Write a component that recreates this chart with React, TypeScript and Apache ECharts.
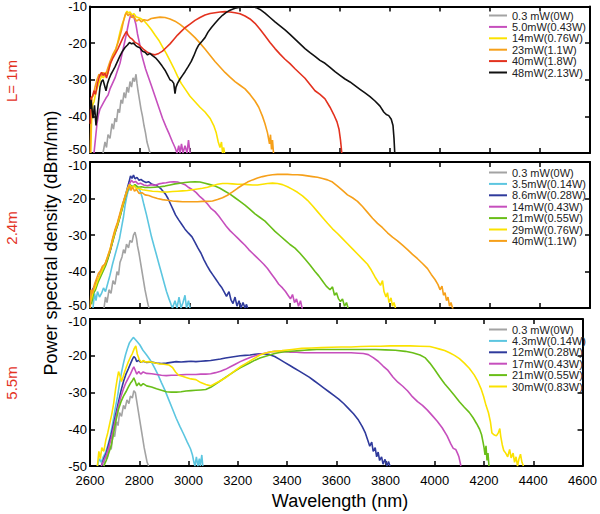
import React, { useEffect, useRef } from "react";
import * as echarts from "echarts";

// ---------- axis setup ----------
const xMin = 2600;
const xMax = 4600;
const xStep = 200;
const yMin = -50;
const yMax = -10;
const yStep = 10;

const panelLabels = ["L= 1m", "2.4m", "5.5m"];
const xTitle = "Wavelength (nm)";
const yTitle = "Power spectral density (dBm/nm)";

// ---------- colours ----------
const GRAY = "#a3a3a3";
const MAGENTA = "#c64fbd";
const YELLOW = "#fbe200";
const ORANGE = "#f6a01a";
const RED = "#e3321f";
const BLACK = "#111111";
const CYAN = "#5cc6e0";
const NAVY = "#2f3a9c";
const GREEN = "#69be18";

// ---------- panel 1 (L = 1 m) ----------
const p1Names = ["0.3 mW(0W)", "5.0mW(0.43W)", "14mW(0.76W)", "23mW(1.1W)", "40mW(1.8W)", "48mW(2.13W)"];
const p1Colors = [GRAY, MAGENTA, YELLOW, ORANGE, RED, BLACK];

const p1_03 = [[2652,-50],[2660,-47],[2666,-48.5],[2672,-45],[2680,-46],[2688,-42],[2694,-43.5],[2700,-40.5],[2706,-41.5],[2712,-38],[2718,-39],[2724,-35.5],[2730,-36.5],[2736,-33.5],[2742,-35],[2748,-32],[2754,-33.5],[2760,-30.5],[2766,-32],[2772,-29.5],[2778,-30.5],[2784,-28.5],[2788,-31],[2792,-33],[2798,-35.5],[2804,-38],[2810,-40],[2816,-42.5],[2822,-44.5],[2828,-47],[2834,-48.5],[2840,-50]];
const p1_5 = [[2616,-50],[2622,-46],[2628,-42],[2634,-39.5],[2640,-38],[2648,-37],[2656,-36],[2664,-35],[2672,-34.2],[2680,-32.5],[2690,-31],[2700,-29.5],[2710,-27.5],[2720,-25.5],[2728,-23],[2736,-20.5],[2744,-18],[2750,-16],[2756,-14],[2762,-12.5],[2768,-13],[2772,-12.3],[2778,-13.5],[2784,-15],[2790,-17.5],[2798,-20],[2806,-23],[2814,-25],[2822,-27],[2832,-29],[2845,-31.5],[2860,-34.5],[2875,-37.5],[2890,-40.5],[2905,-43],[2918,-45],[2930,-47],[2940,-48.5],[2948,-50],[2955,-48],[2960,-50],[2966,-47.5],[2972,-50],[2980,-48],[2988,-50],[2994,-46.5],[3000,-50]];
const p1_14 = [[2603,-50],[2606,-42],[2610,-37],[2616,-36],[2622,-34],[2630,-32],[2638,-30.5],[2646,-29],[2654,-29.5],[2662,-28],[2670,-28.5],[2680,-26],[2690,-24],[2700,-22.5],[2710,-20],[2720,-17],[2728,-15],[2736,-13.5],[2742,-12],[2748,-11.3],[2754,-11.8],[2760,-11.5],[2768,-12.3],[2776,-12],[2784,-12.8],[2792,-13],[2800,-13.2],[2815,-13.8],[2830,-15],[2845,-16.3],[2860,-17.8],[2875,-19.2],[2890,-21],[2905,-22.8],[2920,-24.8],[2935,-26.8],[2950,-29],[2965,-31],[2980,-32.5],[3000,-34.5],[3020,-36],[3040,-37.5],[3060,-38.8],[3080,-40.5],[3095,-42.5],[3105,-44.5],[3113,-47],[3120,-48.5],[3126,-47],[3130,-50],[3135,-48.5],[3138,-50]];
const p1_23 = [[2601,-50],[2604,-40],[2608,-35],[2614,-34],[2620,-32],[2628,-30],[2636,-28.5],[2644,-29],[2652,-28],[2660,-29],[2668,-27.5],[2680,-25],[2692,-23],[2704,-21.5],[2716,-19],[2726,-16.5],[2734,-14],[2740,-12.5],[2746,-11.7],[2752,-12.5],[2760,-12],[2768,-13],[2776,-12.8],[2786,-14],[2796,-13.5],[2806,-14.2],[2816,-13.6],[2830,-13.8],[2845,-13.3],[2860,-13.1],[2880,-12.9],[2900,-13],[2920,-13.4],[2940,-14],[2960,-14.9],[2980,-16],[3000,-17.2],[3020,-18.5],[3040,-20],[3060,-21.6],[3080,-23.3],[3100,-25],[3120,-26.5],[3140,-28],[3160,-29.3],[3180,-30.5],[3200,-31.5],[3220,-32.5],[3240,-34],[3260,-35.8],[3275,-37.5],[3290,-40],[3300,-42],[3310,-44.5],[3318,-47.5],[3322,-45],[3326,-49],[3330,-46.5],[3334,-50]];
const p1_40 = [[2601,-42],[2604,-35],[2610,-34.5],[2616,-33],[2622,-34],[2630,-31],[2638,-29],[2646,-28],[2652,-28.8],[2660,-28.2],[2666,-29.5],[2674,-27.5],[2682,-25.5],[2692,-24],[2702,-22.8],[2712,-21.5],[2722,-20],[2732,-18.5],[2740,-17.5],[2746,-16.8],[2752,-17.8],[2760,-18.5],[2770,-19],[2780,-19.8],[2792,-20.2],[2804,-21],[2816,-21.8],[2830,-22.5],[2845,-23],[2860,-23.2],[2875,-22.8],[2890,-22.2],[2905,-21.2],[2920,-20.2],[2935,-19],[2950,-17.8],[2965,-16.8],[2980,-15.8],[3000,-14.8],[3020,-13.8],[3040,-13],[3060,-12.3],[3080,-11.9],[3100,-11.7],[3120,-11.5],[3140,-11.4],[3160,-11.5],[3180,-11.7],[3200,-12],[3220,-12.6],[3240,-13.4],[3260,-14.6],[3280,-16.2],[3300,-18],[3320,-19.8],[3340,-21.5],[3360,-23],[3380,-24.4],[3400,-25.6],[3420,-27],[3440,-28.3],[3460,-29.6],[3480,-31.3],[3500,-33],[3520,-34],[3540,-35.2],[3560,-37.5],[3575,-39.5],[3588,-41.5],[3596,-43.5],[3602,-46.5],[3605,-48.5],[3607,-50]];
const p1_48 = [[2601,-38],[2604,-35.5],[2608,-38],[2612,-40.5],[2618,-37],[2624,-42.5],[2628,-40],[2634,-36],[2640,-32],[2646,-30.5],[2652,-30],[2658,-31.5],[2664,-33],[2670,-31],[2676,-29.8],[2684,-28.5],[2692,-27.5],[2700,-26.5],[2710,-25],[2720,-23.5],[2730,-22.2],[2740,-21.2],[2750,-20.5],[2758,-19.8],[2766,-20.2],[2774,-20],[2782,-20.6],[2790,-21],[2800,-21.3],[2810,-22.2],[2820,-22.5],[2830,-23.2],[2840,-22.8],[2850,-23.4],[2862,-24],[2875,-25],[2888,-26.2],[2900,-27.4],[2910,-28.7],[2920,-30],[2928,-30.3],[2935,-31],[2940,-33.8],[2944,-32],[2950,-31],[2960,-29.8],[2970,-28.8],[2980,-27.8],[2992,-26.5],[3005,-25],[3015,-23.5],[3025,-21.8],[3035,-20.5],[3048,-19.5],[3060,-18.5],[3072,-17],[3085,-15.8],[3100,-14.6],[3115,-13.4],[3130,-12.4],[3145,-11.6],[3160,-11],[3180,-10.5],[3200,-10.2],[3220,-10],[3245,-10],[3265,-10.3],[3280,-10.8],[3300,-11.8],[3320,-13],[3340,-14.2],[3360,-15.3],[3380,-16.4],[3400,-17.6],[3420,-18.9],[3440,-20.2],[3460,-21.5],[3480,-22.6],[3500,-23.6],[3520,-24.7],[3540,-25.5],[3560,-26.6],[3580,-27.8],[3600,-28.8],[3620,-29.8],[3640,-30.6],[3660,-31.6],[3680,-32.6],[3700,-33.6],[3720,-34.6],[3740,-35.8],[3760,-37.2],[3775,-38.8],[3785,-39.5],[3795,-39.8],[3805,-40.8],[3812,-42.5],[3816,-46],[3819,-50]];

// ---------- panel 2 (L = 2.4 m) ----------
const p2Names = ["0.3 mW(0W)", "3.5mW(0.14W)", "8.6mW(0.28W)", "14mW(0.43W)", "21mW(0.55W)", "29mW(0.76W)", "40mW(1.1W)"];
const p2Colors = [GRAY, CYAN, NAVY, MAGENTA, GREEN, YELLOW, ORANGE];

const p2_03 = [[2656,-50],[2662,-47],[2668,-48.5],[2676,-45],[2684,-46],[2692,-42.5],[2700,-43.5],[2708,-40],[2714,-41],[2720,-37.5],[2728,-36],[2734,-34],[2740,-35],[2746,-32.5],[2754,-33.5],[2760,-31.5],[2768,-32],[2774,-30],[2780,-29.2],[2786,-31],[2790,-33],[2796,-35],[2802,-37.5],[2808,-40],[2814,-42.5],[2820,-45],[2826,-47],[2832,-49],[2836,-50]];
const p2_35 = [[2612,-50],[2618,-46],[2624,-48],[2630,-45.5],[2638,-47],[2646,-46],[2654,-44.5],[2662,-45.5],[2670,-43.5],[2680,-41],[2690,-38],[2700,-35.5],[2710,-33],[2718,-31],[2726,-28],[2734,-25],[2740,-22],[2746,-19.8],[2752,-18],[2760,-17.2],[2768,-16.8],[2776,-16.4],[2784,-16.8],[2792,-17],[2800,-17.8],[2808,-19.5],[2816,-21.8],[2826,-24.5],[2836,-27.5],[2846,-30.5],[2856,-33],[2866,-35.5],[2876,-38],[2886,-40.5],[2896,-43],[2906,-45.5],[2916,-47.5],[2924,-49],[2930,-50],[2940,-48],[2948,-50],[2956,-47],[2964,-50],[2972,-48.5],[2980,-46.5],[2986,-50],[2994,-48],[3000,-50]];
const p2_86 = [[2603,-47],[2610,-45],[2618,-44],[2626,-42.5],[2634,-42],[2644,-40],[2652,-39],[2660,-38],[2670,-36.5],[2680,-34.5],[2690,-31.5],[2700,-29],[2710,-27],[2720,-24.5],[2730,-22],[2740,-19.5],[2748,-17.5],[2756,-15.5],[2762,-13.8],[2768,-14.5],[2774,-13.6],[2780,-14.6],[2788,-14.2],[2796,-15],[2804,-14.8],[2814,-15.3],[2824,-15.6],[2834,-15.4],[2846,-16],[2858,-16.3],[2870,-16.6],[2882,-17.2],[2892,-18],[2902,-18.8],[2912,-20],[2922,-21.5],[2932,-23],[2942,-24.5],[2954,-25.8],[2966,-27],[2980,-28.4],[2994,-29.5],[3008,-30.5],[3020,-32],[3032,-33.6],[3044,-35],[3056,-36.8],[3068,-38.4],[3080,-39.8],[3092,-41],[3104,-42.2],[3116,-43.4],[3126,-44.3],[3136,-45.5],[3146,-46.8],[3156,-45.5],[3164,-47.8],[3172,-48.8],[3180,-47],[3188,-49.5],[3196,-48],[3204,-50],[3212,-48.5],[3220,-50],[3226,-49],[3230,-50]];
const p2_14 = [[2604,-48],[2612,-45],[2620,-44],[2630,-42.5],[2640,-41],[2650,-39.5],[2660,-38.5],[2670,-36.5],[2680,-34.5],[2690,-32],[2700,-29.5],[2710,-27.5],[2720,-25],[2730,-22.5],[2740,-20],[2750,-17.5],[2758,-16],[2766,-15],[2774,-15.6],[2782,-15.3],[2792,-16],[2802,-15.8],[2815,-16.3],[2830,-16.5],[2845,-16.2],[2860,-16.4],[2875,-16],[2890,-15.8],[2905,-15.7],[2920,-15.5],[2935,-15.4],[2950,-15.5],[2965,-15.8],[2980,-16.2],[2995,-17],[3010,-17.6],[3025,-18.4],[3040,-19.5],[3055,-20.4],[3070,-21.5],[3085,-22.8],[3100,-23.6],[3115,-24.8],[3130,-26.2],[3145,-27.6],[3160,-28.8],[3175,-29.8],[3190,-30.8],[3205,-31.8],[3220,-32.8],[3235,-34],[3250,-35],[3265,-36],[3280,-37],[3295,-38],[3310,-39.2],[3325,-40.6],[3340,-42],[3355,-43.5],[3370,-44.5],[3382,-45.5],[3392,-46.5],[3402,-47.5],[3410,-46.3],[3418,-48.5],[3426,-47.5],[3434,-49.5],[3442,-48],[3448,-50],[3452,-50]];
const p2_21 = [[2606,-49],[2614,-46],[2622,-45],[2632,-43],[2642,-41.5],[2652,-40],[2662,-38.5],[2672,-36.5],[2682,-34],[2692,-31.5],[2702,-29],[2712,-27],[2722,-24.5],[2732,-22],[2742,-19.5],[2752,-17.5],[2760,-16.2],[2770,-16.8],[2780,-16.2],[2792,-16.9],[2805,-16.8],[2820,-17],[2840,-17],[2860,-16.9],[2880,-16.8],[2900,-16.6],[2920,-16.3],[2940,-16],[2960,-15.8],[2980,-15.6],[3000,-15.5],[3020,-15.4],[3040,-15.5],[3060,-15.8],[3080,-16.2],[3100,-16.6],[3120,-17.2],[3140,-18],[3160,-18.8],[3180,-19.8],[3200,-20.8],[3220,-21.8],[3240,-23],[3260,-24.2],[3280,-25.2],[3300,-26.2],[3320,-27.6],[3340,-29],[3360,-30.2],[3380,-31.4],[3400,-32.6],[3420,-33.6],[3440,-35],[3460,-36.6],[3480,-38.2],[3500,-40],[3515,-41.2],[3530,-42.6],[3545,-44],[3560,-45],[3570,-44.2],[3578,-46.5],[3586,-45.8],[3594,-47.5],[3602,-48.2],[3610,-47.5],[3618,-49.5],[3626,-48.5],[3632,-50]];
const p2_29 = [[2604,-48],[2612,-45.5],[2620,-44.5],[2630,-42.5],[2640,-41],[2650,-39.5],[2660,-38],[2670,-36],[2680,-34],[2690,-31.5],[2700,-29],[2710,-27],[2720,-24.5],[2730,-22],[2740,-19.5],[2750,-17.3],[2758,-16.2],[2766,-17],[2776,-16.5],[2786,-17.3],[2796,-17.2],[2810,-17.6],[2830,-17.8],[2850,-18],[2870,-18.1],[2890,-18.2],[2910,-18.2],[2930,-18.1],[2950,-18],[2970,-17.9],[2990,-17.8],[3010,-17.6],[3030,-17.4],[3050,-17.2],[3070,-16.9],[3090,-16.5],[3110,-16.1],[3130,-15.9],[3150,-15.9],[3170,-16],[3190,-16.1],[3210,-16.1],[3230,-16.2],[3250,-16.3],[3270,-16.3],[3290,-16.1],[3310,-15.9],[3330,-15.8],[3350,-15.9],[3370,-16.2],[3390,-16.8],[3410,-17.5],[3430,-18.3],[3450,-19.3],[3470,-20.5],[3490,-22],[3510,-23.6],[3530,-25.2],[3550,-26.8],[3570,-28.3],[3590,-29.6],[3610,-31],[3630,-32.4],[3650,-33.8],[3670,-35.2],[3690,-36.6],[3710,-38],[3725,-39.6],[3740,-41.5],[3752,-42.8],[3762,-43.8],[3770,-42.5],[3776,-45.5],[3784,-47],[3790,-45.8],[3796,-48.5],[3804,-47.2],[3810,-49.5],[3816,-48.5],[3822,-50]];
const p2_40 = [[2601,-50],[2604,-45],[2610,-46],[2618,-43.5],[2626,-42],[2634,-40.5],[2642,-39.8],[2650,-38.5],[2660,-38],[2670,-36],[2680,-34],[2690,-31],[2700,-28.5],[2710,-26.5],[2720,-24],[2730,-21.5],[2740,-19.5],[2750,-17.6],[2758,-16.5],[2764,-17.8],[2770,-16.8],[2778,-18],[2786,-17.5],[2796,-18.6],[2808,-18.4],[2820,-19],[2835,-19.2],[2850,-19.6],[2870,-20],[2890,-20.3],[2910,-20.5],[2930,-20.7],[2950,-20.8],[2970,-20.9],[2990,-20.9],[3010,-20.9],[3030,-20.9],[3050,-20.8],[3070,-20.8],[3090,-20.7],[3110,-20.3],[3130,-19.8],[3150,-19.1],[3170,-18.2],[3190,-17.2],[3210,-16.3],[3230,-15.5],[3250,-14.9],[3270,-14.4],[3290,-14],[3310,-13.7],[3330,-13.5],[3350,-13.4],[3370,-13.4],[3390,-13.4],[3410,-13.5],[3430,-13.5],[3450,-13.6],[3470,-13.8],[3490,-14],[3510,-14.2],[3530,-14.5],[3550,-14.9],[3570,-15.5],[3590,-16.6],[3610,-17.8],[3630,-19],[3650,-19.8],[3670,-20.8],[3690,-22.2],[3710,-23.8],[3730,-25.4],[3750,-26.8],[3770,-28],[3790,-29.4],[3810,-30.6],[3830,-31.6],[3850,-32.8],[3870,-34],[3890,-35.3],[3910,-36.5],[3930,-37.8],[3950,-39.2],[3965,-40.8],[3980,-42.2],[3992,-43.6],[4000,-45],[4008,-44],[4014,-46.5],[4020,-45.8],[4026,-48],[4032,-47],[4038,-49.5],[4044,-48.5],[4050,-50],[4054,-50]];

// ---------- panel 3 (L = 5.5 m) ----------
const p3Names = ["0.3 mW(0W)", "4.3mW(0.14W)", "12mW(0.28W)", "17mW(0.43W)", "21mW(0.55W)", "30mW(0.83W)"];
const p3Colors = [GRAY, CYAN, NAVY, MAGENTA, GREEN, YELLOW];

const p3_03 = [[2656,-50],[2664,-47],[2670,-48],[2678,-44.5],[2686,-45.5],[2694,-41],[2700,-42],[2708,-38],[2714,-39],[2720,-35.5],[2728,-36.5],[2736,-33.5],[2742,-34.5],[2750,-32],[2758,-33],[2764,-31],[2772,-31.5],[2778,-29.5],[2784,-30],[2790,-32.5],[2796,-35],[2802,-37.5],[2808,-40],[2814,-42.5],[2820,-45],[2826,-47],[2832,-49],[2838,-50]];
const p3_43 = [[2630,-50],[2638,-48],[2646,-49],[2654,-47.5],[2662,-46.5],[2672,-44.5],[2682,-42],[2692,-38.5],[2702,-34.5],[2712,-31],[2720,-27.5],[2728,-24.5],[2736,-22],[2744,-19.8],[2752,-18],[2760,-16.5],[2768,-15.7],[2776,-15],[2784,-15.6],[2792,-16.2],[2802,-17],[2815,-18.5],[2830,-19.8],[2845,-21.2],[2860,-23],[2875,-25],[2890,-27.3],[2905,-29.5],[2920,-32],[2935,-34.5],[2950,-37],[2965,-39.2],[2980,-41.3],[2995,-43.5],[3008,-45.3],[3016,-47],[3022,-49],[3026,-50],[3032,-47.5],[3038,-50],[3044,-48],[3048,-50],[3054,-47],[3058,-50]];
const p3_12 = [[2646,-50],[2656,-48],[2666,-46.5],[2676,-44],[2686,-41.5],[2696,-38.5],[2706,-35.5],[2716,-32.5],[2726,-29.5],[2736,-27],[2746,-25],[2756,-23.5],[2764,-22.2],[2772,-21],[2778,-20.2],[2784,-20.6],[2790,-21.6],[2798,-21.2],[2806,-21.8],[2816,-21.5],[2830,-21.8],[2850,-21.7],[2870,-22],[2890,-22.1],[2910,-22],[2930,-21.8],[2950,-21.6],[2970,-21.7],[2990,-21.6],[3010,-21.5],[3030,-21.6],[3050,-21.5],[3070,-21.4],[3090,-21.3],[3110,-21.1],[3130,-20.9],[3150,-20.6],[3170,-20.4],[3190,-20.2],[3210,-20],[3230,-19.9],[3250,-19.8],[3270,-19.6],[3290,-19.5],[3310,-19.5],[3330,-19.7],[3350,-20.2],[3370,-21],[3390,-21.8],[3410,-22.6],[3430,-23.4],[3450,-24.2],[3470,-25],[3490,-25.8],[3510,-26.8],[3530,-27.8],[3550,-28.8],[3570,-29.8],[3590,-30.8],[3610,-31.8],[3630,-33],[3650,-34.4],[3670,-35.8],[3690,-37.5],[3705,-39.2],[3718,-41],[3728,-43],[3736,-44.6],[3744,-43.5],[3750,-46],[3758,-45],[3764,-47.5],[3770,-46.2],[3776,-48.5],[3784,-47.5],[3790,-49.5],[3798,-48.2],[3806,-50],[3812,-48.8],[3818,-50]];
const p3_17 = [[2646,-50],[2656,-48.5],[2666,-47],[2676,-45],[2686,-42.5],[2696,-39.5],[2706,-36.5],[2716,-33.5],[2726,-31],[2736,-29],[2746,-27.3],[2756,-26],[2764,-25],[2772,-23.8],[2778,-23],[2784,-24],[2790,-25],[2798,-24.3],[2806,-25],[2816,-24.4],[2830,-24.8],[2850,-24.9],[2870,-25.1],[2890,-25.3],[2910,-25.4],[2930,-25.3],[2950,-25.3],[2970,-25.2],[2990,-25.1],[3010,-25.1],[3030,-25.1],[3050,-25],[3070,-25],[3090,-24.9],[3110,-24.6],[3130,-24.2],[3150,-23.7],[3170,-23],[3190,-22.3],[3210,-21.6],[3230,-21],[3250,-20.5],[3270,-20],[3290,-19.6],[3310,-19.3],[3330,-19],[3350,-18.8],[3370,-18.8],[3390,-18.9],[3410,-19],[3430,-19],[3450,-19.1],[3470,-19.2],[3500,-19.2],[3540,-19.2],[3580,-19.2],[3620,-19.2],[3660,-19.2],[3690,-19.3],[3710,-19.4],[3730,-19.7],[3750,-20.5],[3770,-21.5],[3790,-22.8],[3810,-24],[3830,-25.8],[3850,-27.2],[3870,-28.3],[3890,-29.6],[3910,-31.2],[3930,-32.5],[3950,-33.5],[3970,-34.8],[3990,-36.3],[4010,-37.8],[4030,-39.6],[4050,-41.8],[4065,-44],[4075,-45.2],[4085,-45.5],[4092,-46.5],[4098,-47.5],[4103,-49],[4106,-50]];
const p3_21 = [[2656,-50],[2666,-48.5],[2676,-46.5],[2686,-44.5],[2696,-41],[2706,-37.5],[2716,-34.5],[2726,-32.5],[2736,-31],[2746,-29.8],[2756,-28.5],[2764,-27.5],[2772,-26.8],[2778,-26],[2784,-27],[2790,-28.2],[2798,-27.4],[2806,-28.2],[2816,-27.6],[2830,-28.2],[2850,-28.5],[2870,-29],[2890,-29.4],[2910,-29.8],[2930,-29.9],[2950,-29.9],[2970,-29.8],[2990,-29.6],[3010,-29.5],[3030,-29.4],[3050,-29.3],[3070,-29.2],[3090,-28.6],[3110,-27.7],[3130,-26.8],[3150,-25.9],[3170,-25],[3190,-24.1],[3210,-23.3],[3230,-22.6],[3250,-21.9],[3270,-21.2],[3290,-20.6],[3310,-20.2],[3330,-19.8],[3350,-19.4],[3370,-19.1],[3390,-18.9],[3410,-18.8],[3430,-18.7],[3450,-18.6],[3470,-18.5],[3490,-18.4],[3520,-18.3],[3560,-18.3],[3600,-18.3],[3640,-18.3],[3680,-18.3],[3720,-18.3],[3760,-18.3],[3800,-18.4],[3840,-18.5],[3880,-18.8],[3910,-19.2],[3940,-19.8],[3960,-20.5],[3980,-22],[4000,-23.8],[4020,-25.8],[4040,-27.6],[4060,-29.2],[4080,-30.8],[4100,-32.5],[4120,-34],[4140,-35.4],[4155,-36.8],[4170,-38.5],[4182,-40],[4190,-41.5],[4196,-43.5],[4200,-45],[4204,-47],[4208,-44.5],[4212,-48.5],[4216,-46.5],[4220,-50]];
const p3_30 = [[2630,-50],[2636,-46],[2642,-48],[2648,-45],[2656,-46],[2664,-43],[2672,-41],[2680,-38.5],[2688,-36],[2696,-33],[2704,-29],[2710,-26.5],[2716,-24.3],[2722,-25.5],[2728,-27],[2734,-25.8],[2740,-24.5],[2748,-23],[2756,-21.6],[2764,-20.4],[2772,-19.4],[2780,-18],[2786,-17.3],[2792,-19.5],[2800,-21],[2808,-21.8],[2816,-21.3],[2826,-21.7],[2840,-21.6],[2860,-21.9],[2880,-22.2],[2900,-22.3],[2920,-22.5],[2935,-23.2],[2948,-24.5],[2960,-25.3],[2975,-25.6],[2990,-25.9],[3010,-26.3],[3030,-26.5],[3050,-27.3],[3070,-27.8],[3090,-28.2],[3110,-27.5],[3130,-26.8],[3150,-26],[3170,-25],[3190,-24],[3210,-23],[3230,-22.2],[3250,-21.4],[3270,-20.6],[3290,-19.8],[3310,-19.3],[3330,-19],[3350,-18.8],[3380,-18.6],[3420,-18.3],[3460,-18],[3500,-17.9],[3540,-17.8],[3580,-17.7],[3620,-17.6],[3660,-17.6],[3700,-17.5],[3740,-17.4],[3780,-17.4],[3820,-17.3],[3860,-17.3],[3900,-17.3],[3940,-17.4],[3980,-17.5],[4000,-17.8],[4020,-18.2],[4040,-18.6],[4060,-19.2],[4080,-19.9],[4100,-20.8],[4120,-22],[4140,-23.4],[4160,-25.2],[4175,-27],[4188,-29],[4198,-31],[4208,-33.5],[4218,-35.5],[4226,-38],[4232,-41],[4240,-41.5],[4250,-41.8],[4258,-41],[4264,-39.8],[4268,-42],[4274,-44.2],[4280,-45.8],[4288,-46.5],[4296,-47.5],[4304,-45.5],[4310,-47.8],[4318,-46.5],[4324,-49],[4330,-47.5],[4336,-50],[4342,-48],[4348,-46.8],[4354,-49],[4360,-50]];

const panels = [
  { names: p1Names, colors: p1Colors, data: [p1_03, p1_5, p1_14, p1_23, p1_40, p1_48] },
  { names: p2Names, colors: p2Colors, data: [p2_03, p2_35, p2_86, p2_14, p2_21, p2_29, p2_40] },
  { names: p3Names, colors: p3Colors, data: [p3_03, p3_43, p3_12, p3_17, p3_21, p3_30] },
];

const FONT = "'Liberation Sans', Arial, Helvetica, sans-serif";

// layout (pixels)
const gridTops = [5, 162, 319];
const gridHeights = [148, 146, 147];
const legendTops = [10, 167, 324];
const labelYs = [81, 228, 383];
// vertical nudges of the end labels where two panels meet
const loPad = [7, 5, 0];
const hiPad = [0, 7, 5];

function buildOption() {
  const grid: any[] = [];
  const xAxis: any[] = [];
  const yAxis: any[] = [];
  const series: any[] = [];
  const legend: any[] = [];
  const graphic: any[] = [];

  const axisLine = { show: true, onZero: false, lineStyle: { color: "#000", width: 2 } };
  const axisTick = { show: true, inside: true, length: 5, lineStyle: { color: "#000", width: 1.5 } };

  panels.forEach((p, i) => {
    grid.push({ left: 90, width: 500, top: gridTops[i], height: gridHeights[i], containLabel: false });
    xAxis.push({
      type: "value", gridIndex: i, min: xMin, max: xMax, interval: xStep, position: "bottom",
      axisLine, axisTick, splitLine: { show: false },
      axisLabel: {
        show: i === 2, color: "#000", fontSize: 13, fontFamily: FONT, margin: 8,
        formatter: (v: number) => String(v),
      },
    });
    xAxis.push({
      type: "value", gridIndex: i, min: xMin, max: xMax, interval: xStep, position: "top",
      axisLine, axisTick, splitLine: { show: false }, axisLabel: { show: false },
    });
    yAxis.push({
      type: "value", gridIndex: i, min: yMin, max: yMax, interval: yStep, position: "left",
      axisLine, axisTick, splitLine: { show: false },
      axisLabel: {
        show: true, color: "#000", fontSize: 13, fontFamily: FONT, margin: 3,
        formatter: (v: number) =>
          v === yMin && loPad[i] > 0 ? `{lo|${v}}` : v === yMax && hiPad[i] > 0 ? `{hi|${v}}` : String(v),
        rich: {
          lo: { fontSize: 13, fontFamily: FONT, color: "#000", padding: [0, 0, loPad[i], 0] },
          hi: { fontSize: 13, fontFamily: FONT, color: "#000", padding: [hiPad[i], 0, 0, 0] },
        },
      },
    });
    yAxis.push({
      type: "value", gridIndex: i, min: yMin, max: yMax, interval: yStep, position: "right",
      axisLine, axisTick, splitLine: { show: false }, axisLabel: { show: false },
    });

    p.data.forEach((d, k) => {
      series.push({
        type: "line",
        name: p.names[k],
        xAxisIndex: 2 * i,
        yAxisIndex: 2 * i,
        data: d,
        showSymbol: false,
        symbol: "none",
        clip: true,
        silent: true,
        color: p.colors[k],
        lineStyle: { color: p.colors[k], width: 1.6 },
      });
    });

    legend.push({
      data: p.names.map((n) => ({ name: n, icon: "rect" })),
      orient: "vertical",
      left: 489,
      top: legendTops[i],
      itemWidth: 18,
      itemHeight: 2,
      itemGap: 0.4,
      selectedMode: false,
      padding: 0,
      textStyle: { fontSize: 11, color: "#222", fontFamily: FONT, lineHeight: 10 },
    });

    graphic.push({
      type: "text",
      x: 11,
      y: labelYs[i],
      rotation: Math.PI / 2,
      style: {
        text: panelLabels[i], fontSize: 15, fontFamily: FONT, fill: "#e3321f",
        align: "center", verticalAlign: "middle",
      },
    });
  });

  graphic.push({
    type: "text", x: 51, y: 243, rotation: Math.PI / 2,
    style: { text: yTitle, fontSize: 18, fontFamily: FONT, fill: "#000", align: "center", verticalAlign: "middle" },
  });
  graphic.push({
    type: "text", x: 340, y: 501,
    style: { text: xTitle, fontSize: 18, fontFamily: FONT, fill: "#000", align: "center", verticalAlign: "middle" },
  });

  return {
    animation: false,
    backgroundColor: "#ffffff",
    textStyle: { fontFamily: FONT },
    grid, xAxis, yAxis, series, legend, graphic,
  };
}

export default function App() {
  const ref = useRef<HTMLDivElement>(null);
  useEffect(() => {
    if (!ref.current) return;
    const chart = echarts.init(ref.current, null, { renderer: "svg" });
    chart.setOption(buildOption());
    return () => chart.dispose();
  }, []);
  return (
    <div
      ref={ref}
      style={{ position: "fixed", left: 0, top: 0, width: 600, height: 514, background: "#fff" }}
    />
  );
}
